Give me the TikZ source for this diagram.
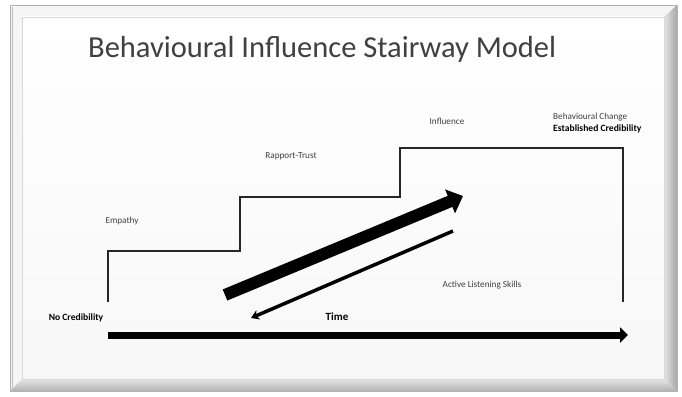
\documentclass[tikz,border=0pt]{standalone}
\usepackage{fontspec}
\setmainfont{Carlito}
\usetikzlibrary{arrows.meta}
\begin{document}
\begin{tikzpicture}[x=1pt,y=-1pt,
  lbl/.style={font=\fontsize{9.2}{10}\selectfont, text=black!75, inner sep=0pt},
  blbl/.style={font=\fontsize{9.6}{10}\selectfont\bfseries, inner sep=0pt},
  stair/.style={line width=2pt, black!85},
]
\useasboundingbox (0,0) rectangle (682,396);
\fill[white] (0,0) rectangle (682,396);
% frame bevel
\fill[black!12] (10,5) rectangle (677,391);
\fill[black!4] (10,5) -- (677,5) -- (664,17) -- (22,17) -- (22,379) -- (10,391) -- cycle;
\shade[left color=black!10, right color=black!35] (664,17) -- (677,5) -- (677,391) -- (664,379) -- cycle;
\shade[top color=black!10, bottom color=black!30] (22,379) -- (664,379) -- (677,391) -- (10,391) -- cycle;
\draw[black!30, line width=0.8pt] (10,5) rectangle (677,391);
\draw[black!25, line width=0.6pt] (12.5,7.5) -- (12.5,389);
\shade[top color=white, bottom color=black!3] (22,17) rectangle (664,379);
\draw[black!15, line width=0.5pt] (22,17) rectangle (664,379);

% title
\node[font=\fontsize{30.5}{33}\selectfont, text=black!75, anchor=west, inner sep=0pt] (title) at (88,49) {Behavioural Influence Stairway Model};

% stairs
\coordinate (s0) at (108,302);
\coordinate (s1) at (108,251);
\coordinate (s2) at (240,251);
\coordinate (s3) at (240,197);
\coordinate (s4) at (400,197);
\coordinate (s5) at (400,148);
\coordinate (s6) at (623,148);
\coordinate (s7) at (623,302);
\draw[stair] (s0) -- (s1) -- (s2) -- (s3) -- (s4) -- (s5) -- (s6) -- (s7);

% labels
\node[lbl] (emp) at (122,221) {Empathy};
\node[lbl] (rap) at (291,156) {Rapport-Trust};
\node[lbl] (inf) at (447,121) {Influence};
\node[lbl, anchor=west] (bc) at (553,117) {Behavioural Change};
\node[blbl, anchor=west] (ec) at (553,128.5) {Established Credibility};
\node[lbl] (als) at (482,285) {Active Listening Skills};
\node[blbl] (nc) at (76,318) {No Credibility};
\node[blbl, font=\fontsize{11}{12}\selectfont\bfseries] (time) at (337,317) {Time};

% time arrow
\coordinate (t0) at (108,335);
\coordinate (t1) at (628,335);
\draw[line width=7pt, -{Triangle[length=8pt,width=15pt]}] (t0) -- (t1);

% thick diagonal arrow
\coordinate (d0) at (225,295);
\coordinate (d1) at (463,196);
\draw[line width=12pt, -{Triangle[length=14pt,width=25pt]}] (d0) -- (d1);

% thin return arrow
\coordinate (r0) at (453,231);
\coordinate (r1) at (251,318);
\draw[line width=3.5pt, -{Stealth[length=8pt,width=10pt]}] (r0) -- (r1);
\end{tikzpicture}
\end{document}
